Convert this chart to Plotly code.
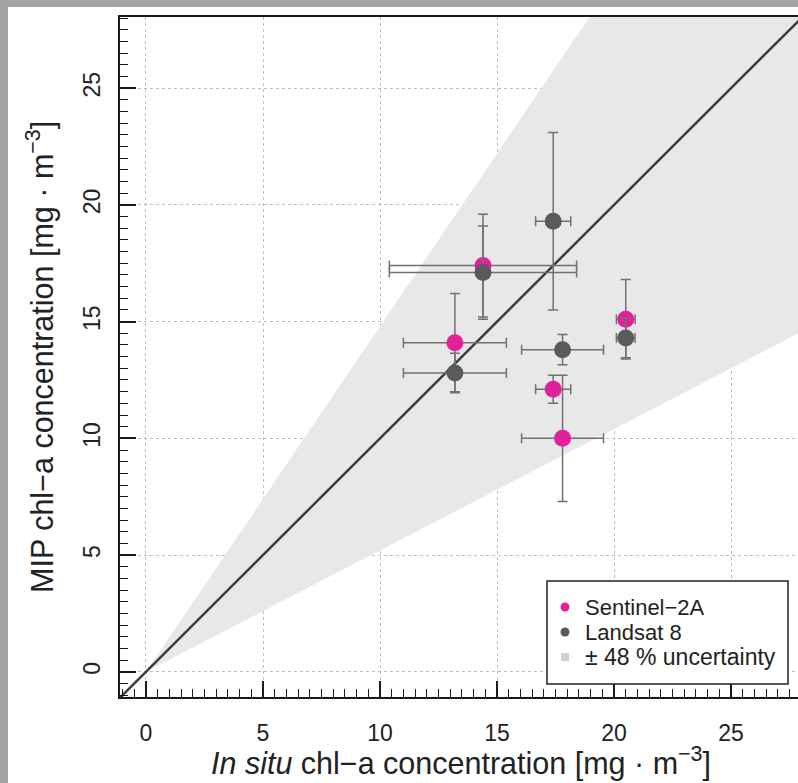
import plotly.graph_objects as go

# ---- data ----
in_situ = [13.2, 14.4, 17.4, 17.8, 20.5]
in_situ_err = [2.2, 4.0, 0.75, 1.75, 0.4]
sentinel = [14.1, 17.4, 12.1, 10.0, 15.1]
sentinel_err = [2.1, 2.2, 0.6, 2.7, 1.7]
landsat = [12.8, 17.1, 19.3, 13.8, 14.3]
landsat_err = [0.85, 2.0, 3.8, 0.65, 0.85]
uncertainty = 0.48
tick_vals = [0, 5, 10, 15, 20, 25]
x_range = [-1.11, 27.86]
y_range = [-1.08, 28.05]
legend_labels = ["Sentinel\u22122A", "Landsat 8", "\u00b1 48 % uncertainty"]

PINK = "#E0219A"
GREY = "#5A5A5A"
BAND = "#E8E8E8"
ERR = "#707070"
FONT = "Liberation Sans, Arial, sans-serif"

fig = go.Figure()

# uncertainty band (between y=(1-u)x and y=(1+u)x, clipped to axes)
bx = [0, y_range[1] / (1 + uncertainty), x_range[1], x_range[1], 0]
by = [0, y_range[1], y_range[1], (1 - uncertainty) * x_range[1], 0]
fig.add_trace(go.Scatter(x=bx, y=by, fill="toself", fillcolor=BAND,
                         line=dict(width=0), mode="lines", name=legend_labels[2],
                         hoverinfo="skip", showlegend=False))

# 1:1 line
lo = min(x_range[0], y_range[0])
hi = max(x_range[1], y_range[1])
fig.add_trace(go.Scatter(x=[lo, hi], y=[lo, hi], mode="lines",
                         line=dict(color="#3C3C3C", width=2.5),
                         hoverinfo="skip", showlegend=False))

err_style = dict(type="data", symmetric=True, color=ERR, thickness=1.5, width=5)

fig.add_trace(go.Scatter(
    x=in_situ, y=sentinel, mode="markers", name=legend_labels[0],
    marker=dict(color=PINK, size=17),
    error_x=dict(array=in_situ_err, **err_style),
    error_y=dict(array=sentinel_err, **err_style),
    showlegend=False))

fig.add_trace(go.Scatter(
    x=in_situ, y=landsat, mode="markers", name=legend_labels[1],
    marker=dict(color=GREY, size=17),
    error_x=dict(array=in_situ_err, **err_style),
    error_y=dict(array=landsat_err, **err_style),
    showlegend=False))

L, T, B, W, H = 120, 17, 86, 798, 783
pw, ph = W - L, H - T - B


def px(xp):
    return (xp - L) / pw


def py(yp):
    return (H - B - yp) / ph


axis_common = dict(
    showline=True, linecolor="#1A1A1A", linewidth=2,
    ticks="inside", ticklen=16, tickwidth=1.5, tickcolor="#1A1A1A",
    tickvals=tick_vals, showgrid=True, gridcolor="#BDBDBD", griddash="dot",
    gridwidth=1, zeroline=False,
    tickfont=dict(family=FONT, size=23, color="#222"),
    minor=dict(ticks="inside", ticklen=8, dtick=0.5, tickwidth=1.2,
               tickcolor="#1A1A1A", showgrid=False),
)

# legend: box, symbols and labels
leg_rows = [607, 632, 657]
leg_colors = [PINK, GREY, "#CFCFCF"]
leg_types = ["circle", "circle", "rect"]
leg_half = [4.5, 4.5, 4]
leg_font_sizes = [22, 22, 23]

shapes = [
    dict(type="rect", xref="paper", yref="paper",
         x0=px(0), x1=px(8), y0=py(H), y1=py(0),
         fillcolor="#A4A4A4", line=dict(width=0), layer="below"),
    dict(type="rect", xref="paper", yref="paper",
         x0=px(0), x1=px(W), y0=py(7), y1=py(0),
         fillcolor="#A4A4A4", line=dict(width=0), layer="below"),
    dict(type="rect", xref="paper", yref="paper",
         x0=px(547), x1=px(788), y0=py(684), y1=py(581),
         fillcolor="white", line=dict(color="#222", width=1.5), layer="above"),
]
for r, c, t, h in zip(leg_rows, leg_colors, leg_types, leg_half):
    shapes.append(dict(type=t, xref="paper", yref="paper",
                       xsizemode="pixel", ysizemode="pixel",
                       xanchor=px(565), yanchor=py(r),
                       x0=-h, x1=h, y0=-h, y1=h,
                       fillcolor=c, line=dict(width=0), layer="above"))

annotations = [
    dict(text="<i>In situ</i> chl\u2212a concentration [mg \u00b7 m<sup>\u22123</sup>]",
         xref="paper", yref="paper", x=px(461), y=py(761),
         xanchor="center", yanchor="middle", showarrow=False,
         font=dict(family=FONT, size=30.5, color="#222")),
    dict(text="MIP chl\u2212a concentration [mg \u00b7 m<sup>\u22123</sup>]",
         xref="paper", yref="paper", x=px(40), y=py(357),
         xanchor="center", yanchor="middle", showarrow=False, textangle=-90,
         font=dict(family=FONT, size=30.5, color="#222")),
]
for lab, r, fs in zip(legend_labels, leg_rows, leg_font_sizes):
    annotations.append(dict(text=lab, xref="paper", yref="paper",
                            x=px(583), y=py(r), xanchor="left", yanchor="middle",
                            showarrow=False,
                            font=dict(family=FONT, size=fs, color="#222")))

fig.update_layout(
    width=W, height=H,
    margin=dict(l=L, r=0, t=T, b=B),
    paper_bgcolor="white", plot_bgcolor="white",
    xaxis=dict(range=x_range, ticklabelstandoff=14, mirror=True, **axis_common),
    yaxis=dict(range=y_range, tickangle=-90, ticklabelstandoff=9, mirror=False,
               **axis_common),
    showlegend=False,
    shapes=shapes,
    annotations=annotations,
)

fig.write_html("out.html", config={"displayModeBar": False},
               post_script="document.body.style.margin='0px';")
